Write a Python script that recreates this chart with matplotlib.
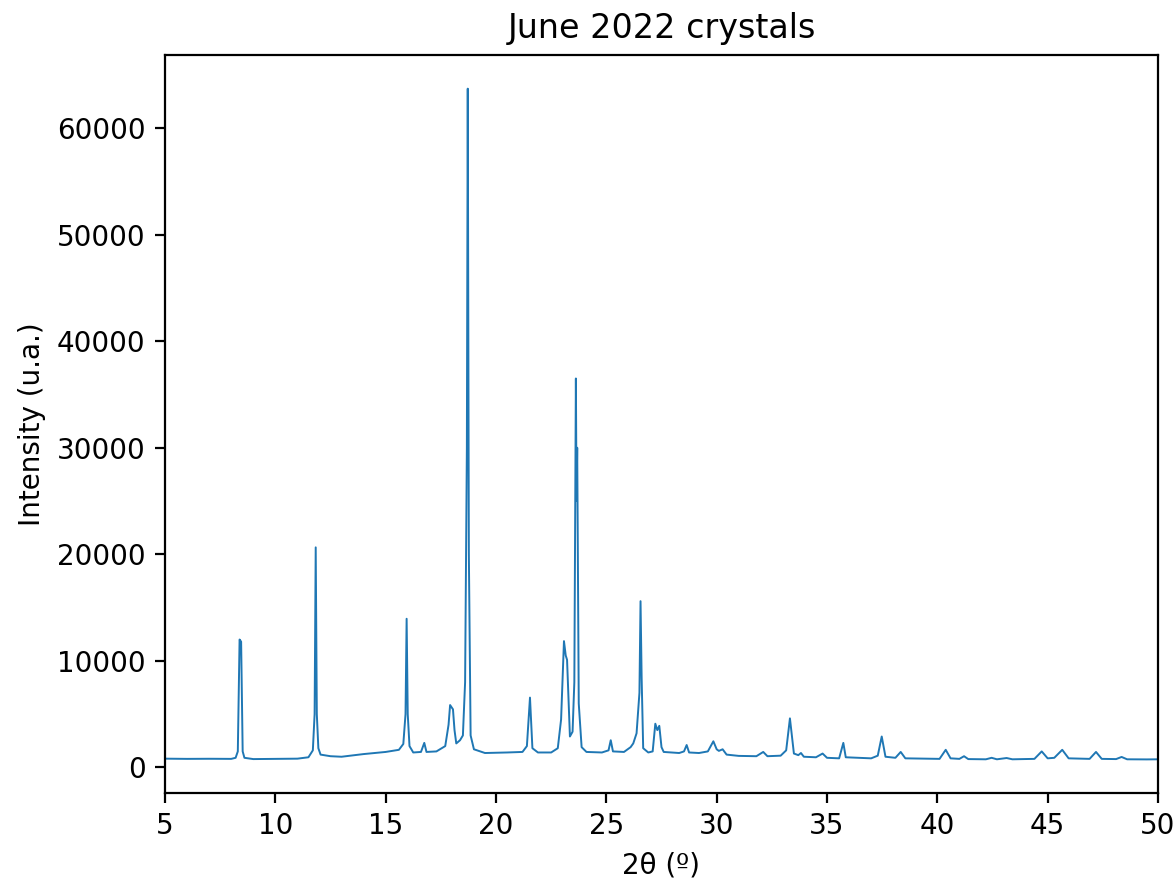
import matplotlib
matplotlib.use('Agg')
import matplotlib.pyplot as plt

# diffraction pattern (2theta in degrees, intensity in counts)
two_theta = [
    5.0, 6.0, 7.0, 8.0, 8.2, 8.3, 8.38, 8.45, 8.52, 8.6,
    9.0, 10.0, 11.0, 11.5, 11.7, 11.78, 11.83, 11.88, 11.95, 12.05,
    12.5, 13.0, 14.0, 15.0, 15.6, 15.8, 15.9, 15.95, 16.0, 16.08,
    16.25, 16.6, 16.75, 16.85, 17.3, 17.7, 17.85, 17.92, 18.05, 18.12,
    18.2, 18.37, 18.5, 18.6, 18.68, 18.72, 18.77, 18.85, 19.0, 19.5,
    20.5, 21.2, 21.4, 21.54, 21.65, 21.9, 22.5, 22.8, 22.95, 23.08,
    23.16, 23.22, 23.35, 23.47, 23.55, 23.62, 23.65, 23.68, 23.75, 23.88,
    24.1, 24.8, 25.1, 25.2, 25.3, 25.8, 26.1, 26.22, 26.37, 26.5,
    26.55, 26.6, 26.67, 26.9, 27.1, 27.22, 27.31, 27.4, 27.5, 27.6,
    28.3, 28.52, 28.64, 28.75, 29.2, 29.6, 29.85, 30.0, 30.1, 30.27,
    30.45, 31.0, 31.8, 32.11, 32.3, 32.9, 33.15, 33.32, 33.5, 33.7,
    33.82, 33.95, 34.5, 34.8, 35.0, 35.55, 35.74, 35.85, 37.0, 37.3,
    37.48, 37.65, 38.1, 38.34, 38.55, 40.1, 40.38, 40.6, 41.0, 41.21,
    41.4, 42.2, 42.46, 42.7, 43.14, 43.4, 44.4, 44.73, 45.0, 45.3,
    45.66, 45.95, 46.9, 47.19, 47.45, 48.1, 48.35, 48.6, 49.5, 50.0,
]
intensity = [
    820, 800, 810, 800, 900, 1500, 12000, 11800, 1500, 900,
    780, 800, 820, 950, 1600, 5000, 20650, 5000, 1800, 1200,
    1050, 1000, 1250, 1450, 1650, 2200, 5000, 13950, 5000, 2000,
    1400, 1450, 2300, 1450, 1500, 2000, 4000, 5850, 5450, 3500,
    2250, 2550, 3000, 8000, 30000, 63700, 20000, 3000, 1700, 1350,
    1400, 1450, 2000, 6550, 1800, 1400, 1400, 1800, 4500, 11850,
    10500, 10100, 2900, 3350, 8000, 36500, 25000, 30000, 6000, 1900,
    1450, 1400, 1600, 2550, 1500, 1450, 1900, 2250, 3200, 7000,
    15600, 8400, 1800, 1400, 1500, 4100, 3500, 3900, 1900, 1450,
    1350, 1500, 2100, 1400, 1350, 1500, 2450, 1700, 1550, 1700,
    1200, 1080, 1050, 1450, 1050, 1100, 1600, 4600, 1300, 1150,
    1350, 1000, 950, 1300, 900, 850, 2300, 950, 850, 1100,
    2900, 1000, 900, 1450, 850, 800, 1650, 850, 800, 1050,
    780, 760, 900, 760, 880, 760, 800, 1500, 850, 900,
    1650, 850, 800, 1450, 800, 780, 980, 760, 750, 760,
]

fig = plt.figure(figsize=(5.88, 4.4), dpi=200)
ax = fig.add_axes([0.1403, 0.0989, 0.8444, 0.8386])

ax.plot(two_theta, intensity, color='#1f77b4', linewidth=0.7)

ax.set_xlim(5, 50)
ax.set_ylim(-2400, 66860)
ax.set_xlabel('2θ (º)')
ax.set_ylabel('Intensity (u.a.)')
ax.set_title('June 2022 crystals')

fig.savefig('out.png', dpi=200)
